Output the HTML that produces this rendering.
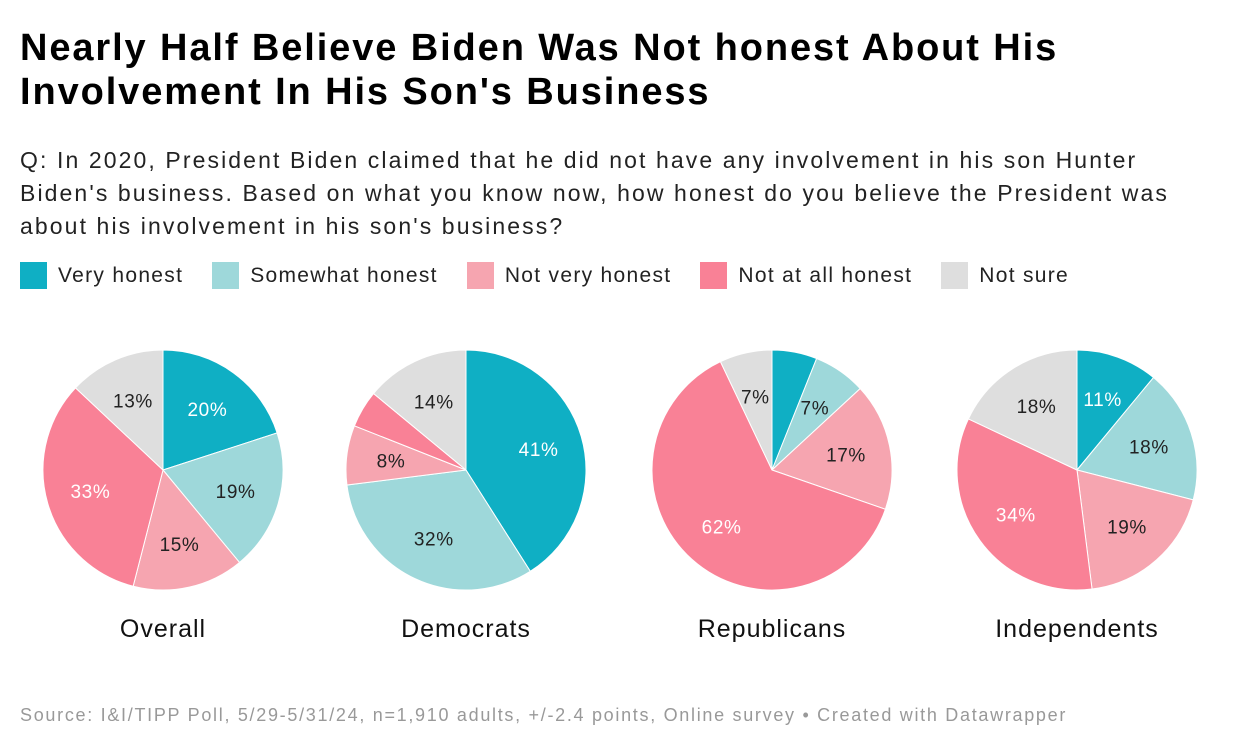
<!DOCTYPE html>
<html><head><meta charset="utf-8"><style>
body{margin:0;width:1240px;height:750px;background:#fff;font-family:"Liberation Sans",sans-serif;overflow:hidden;position:relative}
#title{position:absolute;left:20px;top:26px;font-size:38px;font-weight:bold;line-height:44px;color:#000;letter-spacing:1.9px;white-space:nowrap}
#sub{position:absolute;left:20px;top:144px;font-size:23px;line-height:33px;color:#222;letter-spacing:2.1px;white-space:nowrap}
#legend{position:absolute;left:20px;top:262px;font-size:21px;color:#222;display:flex;letter-spacing:1.3px;white-space:nowrap}
.li{display:flex;align-items:center;margin-right:29px}
.sw{width:27px;height:27px;margin-right:11px}
#foot{position:absolute;left:20px;top:705px;font-size:18px;color:#999;letter-spacing:1.7px;white-space:nowrap}
svg{position:absolute;left:0;top:0}
</style></head><body>
<div id="title">Nearly Half Believe Biden Was Not honest About His<br>Involvement In His Son's Business</div>
<div id="sub">Q: In 2020, President Biden claimed that he did not have any involvement in his son Hunter<br>Biden's business. Based on what you know now, how honest do you believe the President was<br>about his involvement in his son's business?</div>
<div id="legend">
<div class="li"><div class="sw" style="background:#0fafc4"></div>Very honest</div>
<div class="li"><div class="sw" style="background:#9ed8da"></div>Somewhat honest</div>
<div class="li"><div class="sw" style="background:#f6a5b0"></div>Not very honest</div>
<div class="li"><div class="sw" style="background:#f98196"></div>Not at all honest</div>
<div class="li"><div class="sw" style="background:#dedede"></div>Not sure</div>
</div>
<svg id="chart" width="1240" height="750"></svg>
<div id="foot">Source: I&amp;I/TIPP Poll, 5/29-5/31/24, n=1,910 adults, +/-2.4 points, Online survey • Created with Datawrapper</div>
<script>
const groups=["Overall","Democrats","Republicans","Independents"];
const categories=["Very honest","Somewhat honest","Not very honest","Not at all honest","Not sure"];
const overall=[20,19,15,33,13];
const democrats=[41,32,8,5,14];
const republicans=[6,7,17,62,7];
const independents=[11,18,19,34,18];
const series=[overall,democrats,republicans,independents];
const colors=["#0fafc4","#9ed8da","#f6a5b0","#f98196","#dedede"];
const textColors=["#fff","#222","#222","#fff","#222"];
const svg=document.getElementById('chart');
const NS="http://www.w3.org/2000/svg";
const cxs=[163,466,772,1077],cy=470,R=120;
function pt(cx,a,r){return [cx+r*Math.sin(a),cy-r*Math.cos(a)];}
series.forEach((vals,g)=>{
  const tot=vals.reduce((a,b)=>a+b,0);let a0=0;const cx=cxs[g];
  vals.forEach((v,i)=>{
    const a1=a0+v/tot*2*Math.PI;
    const p0=pt(cx,a0,R),p1=pt(cx,a1,R);
    const path=document.createElementNS(NS,'path');
    path.setAttribute('d',`M${cx},${cy}L${p0[0]},${p0[1]}A${R},${R} 0 ${a1-a0>Math.PI?1:0} 1 ${p1[0]},${p1[1]}Z`);
    path.setAttribute('fill',colors[i]);path.setAttribute('stroke','#fff');path.setAttribute('stroke-width','1');
    
    
    svg.appendChild(path);
    if(v>=7){
      const m=pt(cx,(a0+a1)/2,R*0.63);
      const t=document.createElementNS(NS,'text');
      t.setAttribute('x',m[0]);t.setAttribute('y',m[1]+7);t.setAttribute('text-anchor','middle');
      t.setAttribute('font-size','19');t.setAttribute('fill',textColors[i]);t.setAttribute('letter-spacing','0.6');
      
      
      t.textContent=v+'%';svg.appendChild(t);
    }
    a0=a1;
  });
  const lab=document.createElementNS(NS,'text');
  lab.setAttribute('x',cx);lab.setAttribute('y',637);lab.setAttribute('text-anchor','middle');
  lab.setAttribute('font-size','25');lab.setAttribute('fill','#111');lab.setAttribute('letter-spacing','1');
  
  
  lab.textContent=groups[g];svg.appendChild(lab);
});
</script>
</body></html>
